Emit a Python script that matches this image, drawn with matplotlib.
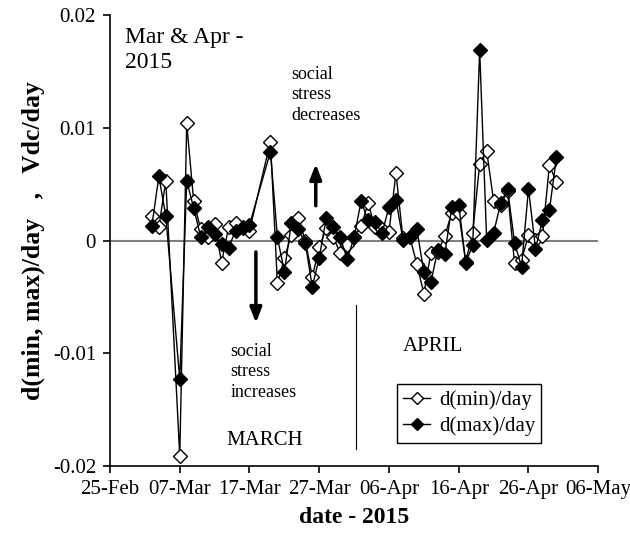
import numpy as np
import matplotlib
matplotlib.use("Agg")
import matplotlib.pyplot as plt
import matplotlib.dates as mdates
from matplotlib.ticker import FuncFormatter

plt.rcParams['font.family'] = ['Liberation Serif', 'DejaVu Serif']
plt.rcParams['axes.unicode_minus'] = False

# data (values in units of 1e-3 Vdc/day)
dates = (['2015-03-%02d' % d for d in [3, 4, 5, 7, 8, 9, 10, 11, 12, 13, 14, 15, 16, 17]]
         + ['2015-03-%02d' % d for d in range(20, 32)]
         + ['2015-04-%02d' % d for d in range(1, 31)])
d_min = [2.2, 1.2, 5.3, -19.1, 10.4, 3.5, 1.0, 0.35, 1.5, -1.95, 1.2, 1.6, 1.2, 0.9,
         8.8, -3.8, -1.55, 0.5, 2.0, 0.0, -3.2, -0.6, 1.1, 0.35, -1.1, -0.4,
         0.3, 1.3, 3.3, 1.2, 1.0, 0.8, 6.0, 0.2, 0.3, -2.1, -4.7, -1.1, -1.0, 0.4,
         2.5, 2.5, -1.9, 0.7, 6.8, 8.0, 3.5, 3.2, 4.4, -2.0, -1.7, 0.5, 0.06, 0.4, 6.7, 5.2]
d_max = [1.3, 5.7, 2.2, -12.3, 5.3, 2.9, 0.35, 1.2, 0.6, -0.3, -0.65, 0.9, 1.1, 1.4,
         7.9, 0.3, -2.75, 1.55, 1.0, -0.2, -4.1, -1.5, 2.0, 1.2, 0.35, -1.65,
         0.3, 3.5, 1.8, 1.7, 0.65, 3.0, 3.6, 0.1, 0.3, 1.0, -2.8, -3.7, -0.8, -1.2,
         3.0, 3.2, -1.95, -0.4, 16.9, 0.1, 0.7, 3.3, 4.6, -0.2, -2.3, 4.6, -0.7, 1.8, 2.7, 7.4]

x = np.array(dates, dtype='datetime64[D]')
y_min = np.array(d_min) * 1e-3
y_max = np.array(d_max) * 1e-3

fig = plt.figure(figsize=(6.3, 5.34), dpi=100)
ax = fig.add_axes([0.1746, 0.1273, 0.775, 0.844])

ax.axhline(0, color='#808080', lw=1.5, zorder=1)
ax.plot(x, y_min, color='black', lw=1, marker='D', ms=7.5, mfc='white', mec='black',
        mew=1, label='d(min)/day', zorder=3)
ax.plot(x, y_max, color='black', lw=1, marker='D', ms=7.5, mfc='black', mec='black',
        label='d(max)/day', zorder=4)

ax.set_xlim(np.datetime64('2015-02-25'), np.datetime64('2015-05-06'))
ax.set_ylim(-0.02, 0.02)
ticks = np.arange(np.datetime64('2015-02-25'), np.datetime64('2015-05-07'), 10)
ax.set_xticks(ticks)
ax.xaxis.set_major_formatter(mdates.DateFormatter('%d-%b'))
ax.set_yticks([-0.02, -0.01, 0, 0.01, 0.02])
ax.yaxis.set_major_formatter(FuncFormatter(lambda v, p: '%g' % round(v, 3)))

for s in ['top', 'right']:
    ax.spines[s].set_visible(False)
for s in ['left', 'bottom']:
    ax.spines[s].set_linewidth(1.2)
ax.tick_params(labelsize=15, length=5, width=1.2, direction='out', pad=5)

ax.set_xlabel('date - 2015', fontsize=17, fontweight='bold', labelpad=6)
ax.set_ylabel('d(min, max)/day   ,   Vdc/day', fontsize=18.5, fontweight='bold', labelpad=6)

ax.text(0.03, 0.975, 'Mar & Apr -\n2015', transform=ax.transAxes, fontsize=17,
        va='top', ha='left', linespacing=1.25)

arrow = dict(arrowstyle='-|>,head_length=0.9,head_width=0.35', lw=2.5, color='black',
             shrinkA=0, shrinkB=0)
ax.text(np.datetime64('2015-03-23'), 0.0155, 'social\nstress\ndecreases', fontsize=13,
        va='top', ha='left', linespacing=1.25)
ax.annotate('', xy=(np.datetime64('2015-03-26T12'), 0.0068),
            xytext=(np.datetime64('2015-03-26T12'), 0.0031), arrowprops=arrow)

ax.text(np.datetime64('2015-03-14T06'), -0.0091, 'social\nstress\nincreases', fontsize=13,
        va='top', ha='left', linespacing=1.25)
ax.annotate('', xy=(np.datetime64('2015-03-17T22'), -0.0073),
            xytext=(np.datetime64('2015-03-17T22'), -0.0010), arrowprops=arrow)

ax.text(np.datetime64('2015-03-13T16'), -0.0181, 'MARCH', fontsize=15, ha='left', va='baseline')
ax.text(np.datetime64('2015-04-08'), -0.0098, 'APRIL', fontsize=15, ha='left', va='baseline')
ax.plot([np.datetime64('2015-04-01T06'), np.datetime64('2015-04-01T06')], [-0.0057, -0.0185],
        color='black', lw=0.8)

leg = ax.legend(loc='lower left', bbox_to_anchor=(0.588, 0.052), fontsize=15,
                frameon=True, fancybox=False, edgecolor='black', framealpha=1,
                handlelength=1.3, handletextpad=0.4, borderpad=0.3, labelspacing=0.3,
                borderaxespad=0)
leg.get_frame().set_linewidth(1)
for h in leg.legend_handles:
    h.set_markersize(6)

fig.savefig('out.png', dpi=100)
